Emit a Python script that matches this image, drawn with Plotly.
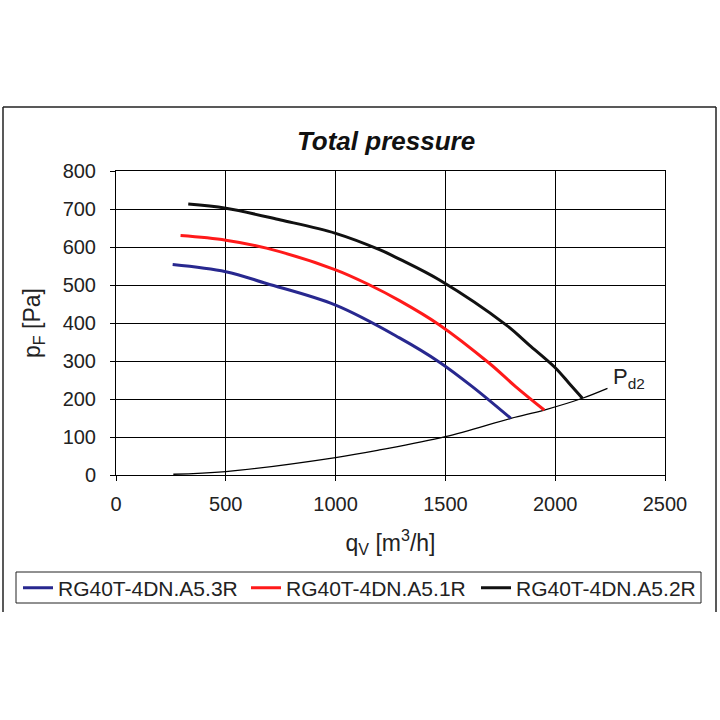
import plotly.graph_objects as go

# --- data ---
blue_x = [258, 500, 685, 1000, 1291, 1473, 1624, 1798]
blue_y = [554, 535, 504, 447, 361, 297, 232, 149]
red_x = [294, 500, 685, 1000, 1155, 1291, 1473, 1700, 1821, 1950]
red_y = [630, 618, 597, 540, 500, 459, 395, 294, 232, 171]
black_x = [329, 500, 750, 1000, 1200, 1291, 1473, 1776, 1882, 1999, 2064, 2124]
black_y = [713, 702, 671, 636, 593, 568, 513, 395, 342, 283, 241, 202]
pd2_x = [261, 500, 1000, 1200, 1500, 1798, 1950, 2124, 2238]
pd2_y = [2, 9, 46, 66, 101, 149, 171, 202, 228]
series_names = ["RG40T-4DN.A5.3R", "RG40T-4DN.A5.1R", "RG40T-4DN.A5.2R"]
x_ticks = [0, 500, 1000, 1500, 2000, 2500]
y_ticks = [0, 100, 200, 300, 400, 500, 600, 700, 800]

FONT = "Liberation Sans, Arial, sans-serif"
W, H = 720, 720
ML, MR, MT, MB = 116, 55, 171, 245
PW, PH = W - ML - MR, H - MT - MB


def px(xp):
    return (xp - ML) / PW


def py(yp):
    return (H - MB - yp) / PH


fig = go.Figure()
fig.add_trace(go.Scatter(x=pd2_x, y=pd2_y, mode="lines",
                         line=dict(color="black", width=1.3, shape="spline", smoothing=1),
                         showlegend=False, hoverinfo="skip"))
fig.add_trace(go.Scatter(x=blue_x, y=blue_y, mode="lines", name=series_names[0], legend="legend",
                         line=dict(color="#28288f", width=3, shape="spline", smoothing=1)))
fig.add_trace(go.Scatter(x=red_x, y=red_y, mode="lines", name=series_names[1], legend="legend2",
                         line=dict(color="#ff1a1a", width=3, shape="spline", smoothing=1)))
fig.add_trace(go.Scatter(x=black_x, y=black_y, mode="lines", name=series_names[2], legend="legend3",
                         line=dict(color="#111111", width=3, shape="spline", smoothing=1)))

axis_common = dict(showline=True, linecolor="black", linewidth=1, mirror=True,
                   showgrid=True, gridcolor="black", gridwidth=1, zeroline=False,
                   ticks="outside", ticklen=5, tickcolor="black",
                   tickfont=dict(family=FONT, size=20, color="#222"))

fig.update_xaxes(range=[0, 2500], tickvals=x_ticks, **axis_common, ticklabelstandoff=6,
                 title=dict(text="q<sub>V</sub> [m<sup>3</sup>/h]", font=dict(family=FONT, size=23, color="#222"),
                            standoff=20))
fig.update_yaxes(range=[0, 800], tickvals=y_ticks, **axis_common, ticklabelstandoff=10,
                 title=dict(text="p<sub>F</sub> [Pa]", font=dict(family=FONT, size=23, color="#222"),
                            standoff=15))

fig.add_annotation(x=2255, y=256, text="P<sub>d2</sub>", showarrow=False, xanchor="left", yanchor="middle",
                   font=dict(family=FONT, size=22, color="#222"))

# outer frame (top, left, right)
for x0, y0, x1, y1 in [(3, 107, 716, 107), (3, 107, 3, 612), (716, 107, 716, 612)]:
    fig.add_shape(type="line", xref="paper", yref="paper", x0=px(x0), y0=py(y0), x1=px(x1), y1=py(y1),
                  line=dict(color="#222", width=1.5))

# legend frame
fig.add_shape(type="rect", xref="paper", yref="paper", x0=px(16), y0=py(572), x1=px(701), y1=py(603),
              line=dict(color="#222", width=1), fillcolor="rgba(0,0,0,0)")

leg_common = dict(orientation="h", xanchor="left", yanchor="middle", borderwidth=0,
                  bgcolor="rgba(0,0,0,0)", font=dict(family=FONT, size=21, color="#222"),
                  itemwidth=30, y=py(588))

fig.update_layout(
    width=W, height=H, margin=dict(l=ML, r=MR, t=MT, b=MB, autoexpand=False),
    paper_bgcolor="white", plot_bgcolor="white",
    title=dict(text="<b><i>Total pressure</i></b>", x=px(386), xref="paper", xanchor="center",
               y=1 - 141 / H, yanchor="middle", font=dict(family=FONT, size=26, color="#111")),
    legend=dict(x=px(18), **leg_common),
    legend2=dict(x=px(246), **leg_common),
    legend3=dict(x=px(476), **leg_common),
    hovermode=False,
)

fig.write_html("out.html", config={"displayModeBar": False},
               post_script="document.body.style.margin='0';document.body.style.padding='0';")
